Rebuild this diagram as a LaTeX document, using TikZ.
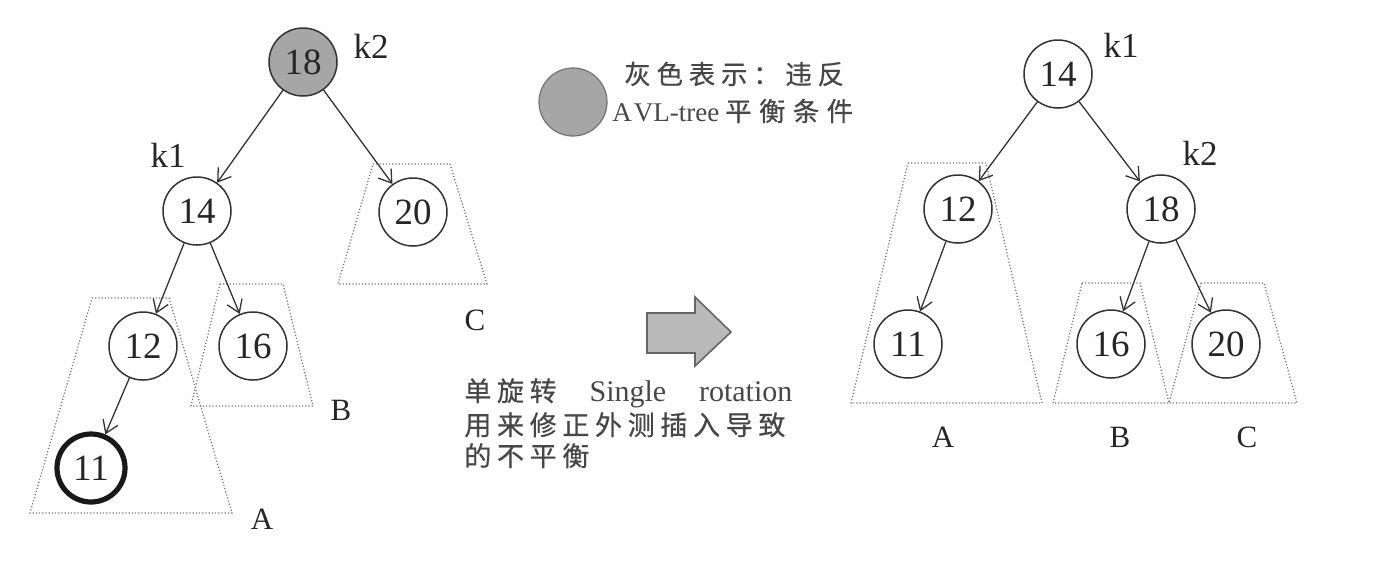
\documentclass[tikz,border=0pt]{standalone}
\usepackage{fontspec}
\setmainfont{Liberation Serif}
\newfontfamily\cjkA[LetterSpace=22,FakeBold=0.6]{Noto Sans CJK SC}
\newfontfamily\cjkB[LetterSpace=21,FakeBold=0.6]{Noto Sans CJK SC}
\newfontfamily\cjkC[LetterSpace=28,FakeBold=0.6]{Noto Sans CJK SC}
\usetikzlibrary{arrows.meta}
\begin{document}
\begin{tikzpicture}[x=0.5pt,y=-0.5pt,
  tn/.style={circle,draw=black!80,line width=0.75pt,minimum size=34pt,inner sep=0pt,
             font=\fontsize{18.5}{18.5}\selectfont,text=black!85},
  hot/.style={tn,fill=gray!70},
  new/.style={tn,line width=2.6pt,draw=black!90},
  edge/.style={-{Straight Barb[length=6pt,width=8pt]},line width=0.65pt,draw=black!80},
  kl/.style={font=\fontsize{17.5}{17.5}\selectfont,text=black!85,inner sep=0pt},
  sub/.style={font=\fontsize{15.5}{15.5}\selectfont,text=black!85,inner sep=0pt},
  trap/.style={draw=black!55,line width=0.6pt,densely dotted},
  txt/.style={anchor=base west,inner sep=0pt,text=black!72}
]
\useasboundingbox (0,0) rectangle (1382,570);

% ---------- left tree ----------
\draw[trap] (92,298) -- (169,298) -- (232,513) -- (30,513) -- cycle;
\draw[trap] (220,284) -- (283,284) -- (313,406) -- (191,406) -- cycle;
\draw[trap] (373,164) -- (450,164) -- (487,284) -- (338,284) -- cycle;

\node[hot] (L18) at (303,62) {18};
\node[tn]  (L14) at (197,211) {14};
\node[tn]  (L20) at (413,212) {20};
\node[tn]  (L12) at (143,346) {12};
\node[tn]  (L16) at (253,346) {16};
\node[new] (L11) at (91,468) {11};

\node[kl] (Lk2) at (371,46) {k2};
\node[kl] (Lk1) at (168,155) {k1};
\node[sub] (LA) at (262,519) {A};
\node[sub] (LB) at (341,410) {B};
\node[sub] (LC) at (475,320) {C};

\draw[edge] (L18) -- (L14);
\draw[edge] (L18) -- (L20);
\draw[edge] (L14) -- (L12);
\draw[edge] (L14) -- (L16);
\draw[edge] (L12) -- (L11);

% ---------- legend ----------
\node[circle,fill=gray!70,draw=black!55,line width=0.6pt,minimum size=34pt,inner sep=0pt] (leg) at (573,102) {};
\node[txt] (leg1) at (624,84) {\fontsize{13.2}{13.2}\cjkA 灰色表示：违反};
\node[txt] (leg2) at (612,121) {\fontsize{13.5}{13.5}\selectfont A\kern1pt VL-tree\hspace{3pt}{\fontsize{13.2}{13.2}\cjkC 平衡条件}};

% ---------- rotation arrow and text ----------
\draw[fill=gray!55,draw=black!60,line width=0.8pt]
  (647,313) -- (695,313) -- (695,297) -- (731,332) -- (695,366) -- (695,353) -- (647,353) -- cycle;
\node[txt] (t1) at (464,401) {\makebox[164pt][l]{{\fontsize{13.5}{13.5}\cjkB 单旋转}\hfill\fontsize{15}{15}\selectfont Single\hfill rotation}};
\node[txt] (t2) at (464,435) {\fontsize{13.5}{13.5}\cjkB 用来修正外测插入导致};
\node[txt] (t3) at (464,466) {\fontsize{13.5}{13.5}\cjkB 的不平衡};

% ---------- right tree ----------
\draw[trap] (908,163) -- (986,163) -- (1042,403) -- (851,403) -- cycle;
\draw[trap] (1082,283) -- (1140,283) -- (1169,403) -- (1053,403) -- cycle;
\draw[trap] (1201,283) -- (1264,283) -- (1297,403) -- (1169,403) -- cycle;

\node[tn] (R14) at (1058,74) {14};
\node[tn] (R12) at (958,209) {12};
\node[tn] (R18) at (1161,209) {18};
\node[tn] (R11) at (908,344) {11};
\node[tn] (R16) at (1111,344) {16};
\node[tn] (R20) at (1226,344) {20};

\node[kl] (Rk1) at (1121,45) {k1};
\node[kl] (Rk2) at (1200,153) {k2};
\node[sub] (RA) at (943,437) {A};
\node[sub] (RB) at (1120,437) {B};
\node[sub] (RC) at (1247,437) {C};

\draw[edge] (R14) -- (R12);
\draw[edge] (R14) -- (R18);
\draw[edge] (R12) -- (R11);
\draw[edge] (R18) -- (R16);
\draw[edge] (R18) -- (R20);
\end{tikzpicture}
\end{document}
